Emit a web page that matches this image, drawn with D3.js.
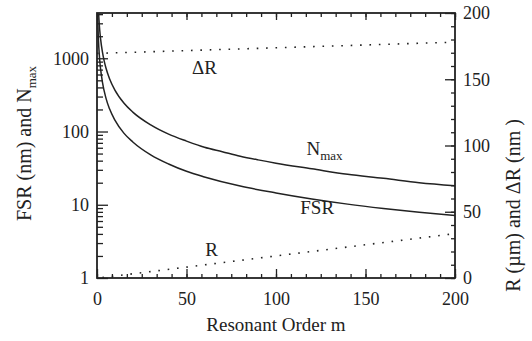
<!DOCTYPE html>
<html>
<head>
<meta charset="utf-8">
<script src="https://cdn.jsdelivr.net/npm/d3@7"></script>
<style>
  body { margin: 0; background: #fff; }
  svg { display: block; }
</style>
</head>
<body>
<div id="chart"></div>
<script>
// values
const orderTicks = [0, 50, 100, 150, 200];
const logTicks = [1, 10, 100, 1000];
const rightTicks = [0, 50, 100, 150, 200];

const fsrM = [0.4, 0.7, 1, 1.5, 2, 3, 5, 7, 10, 15, 20, 30, 40, 50, 60, 80, 100, 120, 140, 160, 180, 200];
const fsrVal = [3600, 2050, 1430, 950, 715, 477, 286, 204, 143, 95, 72, 48, 36, 28.6, 24, 18, 14.5, 12, 10.2, 8.9, 7.9, 7.15];

const nmaxM = [0.9, 1.2, 1.5, 2, 3, 4, 5, 7, 10, 15, 20, 30, 40, 50, 60, 70, 80, 90, 100, 120, 140, 160, 180, 200];
const nmaxVal = [4100, 3070, 2450, 1840, 1230, 920, 736, 526, 368, 245, 184, 123, 92, 74, 61, 53, 46, 41, 37, 31, 26, 23, 20, 18.2];

const rM = [3, 200];
const rVal = [0.3, 33.5];

const dRM = [0, 200];
const dRVal = [169.5, 178];

const W = 532, H = 341;
const margin = { top: 13, right: 77, bottom: 63, left: 97 };
const w = W - margin.left - margin.right;
const h = H - margin.top - margin.bottom;
const FONT = "Liberation Serif";
const INK = "#222";

const svg = d3.select("#chart").append("svg")
  .attr("width", W).attr("height", H)
  .attr("font-family", FONT);
const g = svg.append("g")
  .attr("transform", `translate(${margin.left},${margin.top})`);

const x = d3.scaleLinear().domain([0, 200]).range([0, w]);
const yL = d3.scaleLog().domain([1, 4150]).range([h, 0]);
const yR = d3.scaleLinear().domain([0, 200]).range([h, 0]);

g.append("defs").append("clipPath").attr("id", "clip")
  .append("rect").attr("width", w).attr("height", h);

const plot = g.append("g").attr("clip-path", "url(#clip)");

const curve = (xs, ys, yScale) => d3.line()
  .x((d, i) => x(xs[i]))
  .y((d, i) => yScale(ys[i]))
  .curve(d3.curveMonotoneX)(xs);

plot.append("path").attr("d", curve(fsrM, fsrVal, yL))
  .attr("fill", "none").attr("stroke", INK).attr("stroke-width", 1.5);
plot.append("path").attr("d", curve(nmaxM, nmaxVal, yL))
  .attr("fill", "none").attr("stroke", INK).attr("stroke-width", 1.5);

const dotted = (xs, ys) => d3.line()
  .x((d, i) => x(xs[i]))
  .y((d, i) => yR(ys[i]))(xs);

plot.append("path").attr("d", dotted(rM, rVal))
  .attr("fill", "none").attr("stroke", INK).attr("stroke-width", 1.6)
  .attr("stroke-dasharray", "1.6,7.8");
plot.append("path").attr("d", dotted(dRM, dRVal))
  .attr("fill", "none").attr("stroke", INK).attr("stroke-width", 1.6)
  .attr("stroke-dasharray", "1.6,7.8");

// axes: ticks point inward
const minorX = d3.range(0, 200.01, 50 / 6);
const axisStyle = sel => {
  sel.attr("font-family", FONT).attr("font-size", 18);
  sel.select(".domain").remove();
  sel.selectAll("line").attr("stroke", INK).attr("stroke-width", 1.3);
  sel.selectAll("text")
    .attr("font-family", FONT).attr("font-size", 18).attr("fill", INK);
};

g.append("g").attr("transform", `translate(0,${h})`)
  .call(d3.axisBottom(x).tickValues(minorX).tickSize(-4).tickFormat(""))
  .call(axisStyle);
g.append("g").attr("transform", `translate(0,${h})`)
  .call(d3.axisBottom(x).tickValues(orderTicks).tickSize(-9).tickPadding(14).tickFormat(d3.format("d")))
  .call(axisStyle);

g.append("g")
  .call(d3.axisTop(x).tickValues(minorX).tickSize(-4).tickFormat(""))
  .call(axisStyle);
g.append("g")
  .call(d3.axisTop(x).tickValues(orderTicks).tickSize(-7).tickFormat(""))
  .call(axisStyle);

const minorLog = [];
[1, 10, 100, 1000].forEach(dec => {
  for (let k = 2; k <= 9; k++) if (dec * k <= 4150) minorLog.push(dec * k);
});
g.append("g")
  .call(d3.axisLeft(yL).tickValues(minorLog).tickSize(-6).tickFormat(""))
  .call(axisStyle);
g.append("g")
  .call(d3.axisLeft(yL).tickValues(logTicks).tickSize(-11).tickPadding(8).tickFormat(d3.format("d")))
  .call(axisStyle);

g.append("g").attr("transform", `translate(${w},0)`)
  .call(d3.axisRight(yR).tickValues(d3.range(0, 201, 10)).tickSize(-4).tickFormat(""))
  .call(axisStyle);
g.append("g").attr("transform", `translate(${w},0)`)
  .call(d3.axisRight(yR).tickValues(rightTicks).tickSize(-10).tickPadding(8).tickFormat(d3.format("d")))
  .call(axisStyle);

g.append("rect").attr("width", w).attr("height", h)
  .attr("fill", "none").attr("stroke", INK).attr("stroke-width", 1.8);

const label = (sel, size) => sel.attr("font-family", FONT)
  .attr("font-size", size).attr("fill", INK);

// axis titles
g.append("text")
  .attr("x", w / 2).attr("y", h + 53)
  .attr("text-anchor", "middle")
  .call(label, 19)
  .text("Resonant Order m");

const lt = g.append("text")
  .attr("transform", `translate(-66,${h / 2 - 2}) rotate(-90)`)
  .attr("text-anchor", "middle")
  .call(label, 20);
lt.append("tspan").text("FSR (nm) and N");
lt.append("tspan").attr("font-size", 13).attr("dy", 5).text("max");

g.append("text")
  .attr("transform", `translate(${w + 65},${h / 2 + 60}) rotate(-90)`)
  .attr("text-anchor", "middle")
  .call(label, 20)
  .text("R (\u00b5m) and  \u0394R (nm )");

// curve labels
g.append("text").attr("x", x(60)).attr("y", 61)
  .attr("text-anchor", "middle").call(label, 19).text("\u0394R");
const nl = g.append("text").attr("x", x(117)).attr("y", 142)
  .call(label, 19);
nl.append("tspan").text("N");
nl.append("tspan").attr("font-size", 13).attr("dy", 5).text("max");
g.append("text").attr("x", x(123)).attr("y", 201)
  .attr("text-anchor", "middle").call(label, 19).text("FSR");
g.append("text").attr("x", x(64)).attr("y", 243)
  .attr("text-anchor", "middle").call(label, 19).text("R");
</script>
</body>
</html>
